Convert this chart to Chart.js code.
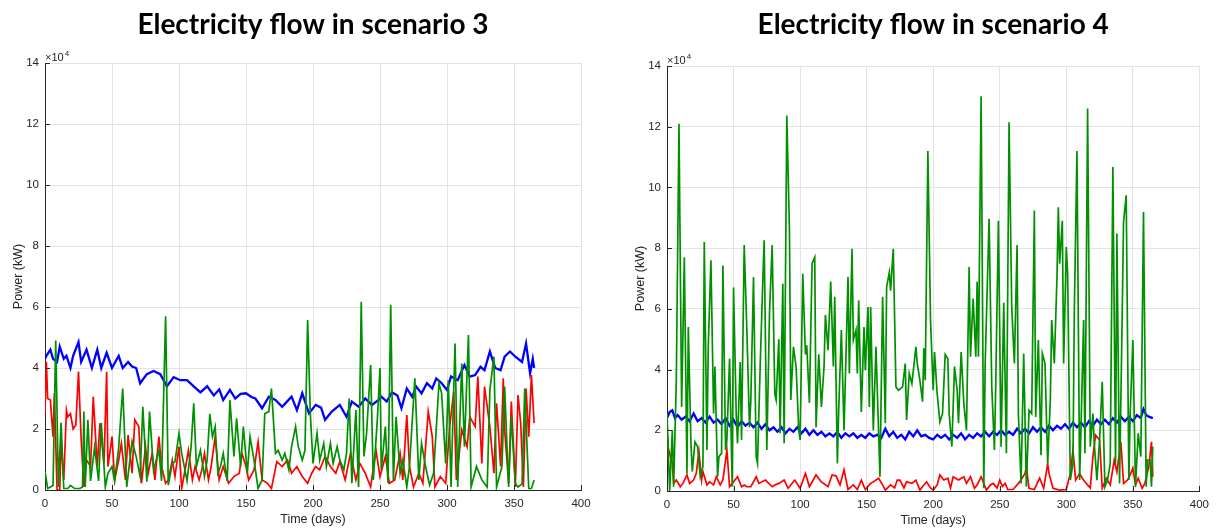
<!DOCTYPE html>
<html>
<head>
<meta charset="utf-8">
<script src="https://cdn.jsdelivr.net/npm/chart.js@4"></script>
<style>
  html, body { margin: 0; padding: 0; background: #fff; }
  body { width: 1216px; height: 528px; position: relative; overflow: hidden; }
  .box { position: absolute; top: 0; height: 528px; }
</style>
</head>
<body>
<div class="box" style="left:0;width:600px"><canvas id="chart3"></canvas></div>
<div class="box" style="left:620px;width:596px"><canvas id="chart4"></canvas></div>
<script>
// values in units of 10^4 kW, as [day, value]
const xTicks = [0, 50, 100, 150, 200, 250, 300, 350, 400];
const yTicks = [0, 2, 4, 6, 8, 10, 12, 14];

// scenario 3
const s3Blue = [[0,4.3],[1,4.4],[4,4.6],[6,4.3],[9,4.2],[11,4.7],[14,4.3],[16,4.4],[19,4.0],[21,4.4],[25,4.85],[27,4.2],[31,4.6],[35,4.0],[39,4.6],[42,4.0],[46,4.5],[50,4.0],[55,4.4],[58,4.0],[62,4.2],[65,4.05],[68,4.0],[71,3.5],[76,3.8],[81,3.9],[86,3.8],[91,3.4],[96,3.7],[101,3.6],[106,3.6],[111,3.4],[116,3.2],[121,3.4],[126,3.1],[130,3.3],[133,2.95],[138,3.28],[142,3.0],[146,3.15],[150,3.17],[154,3.05],[157,3.0],[162,2.68],[167,3.06],[172,2.95],[177,2.73],[184,3.06],[188,2.62],[192,3.17],[197,2.51],[202,2.79],[206,2.7],[209,2.3],[214,2.57],[220,2.79],[225,2.4],[229,2.9],[234,2.73],[239,3.0],[244,2.79],[249,2.95],[251,3.06],[255,2.9],[259,3.2],[263,3.1],[266,2.68],[270,3.33],[274,3.06],[277,3.39],[281,3.17],[285,3.5],[289,3.33],[292,3.66],[296,3.5],[300,3.28],[303,3.72],[308,3.6],[313,4.1],[317,3.72],[321,3.77],[325,4.04],[328,3.93],[332,4.54],[336,4.0],[340,3.93],[343,4.37],[347,4.54],[351,4.37],[356,4.2],[359,4.8],[362,3.83],[364,4.3],[365,4.0]];
const s3Green = [[0,0.6],[2,0.05],[4,0.1],[6,0.15],[8,4.9],[10,0.1],[12,2.2],[14,0.05],[17,0.05],[19,0.15],[22,0.05],[26,0.05],[28,0.1],[29,2.57],[30,0.1],[32,2.3],[34,0.3],[37,1.4],[40,0.3],[42,2.2],[45,0.1],[47,0.55],[50,0.77],[52,0.3],[55,1.4],[58,3.33],[61,0.1],[65,1.6],[68,1.1],[71,0.44],[73,2.73],[76,0.27],[78,2.57],[81,0.66],[85,1.3],[87,0.3],[90,5.7],[92,0.16],[95,0.87],[97,0.93],[100,1.86],[102,1.2],[106,0.3],[109,1.4],[111,2.84],[113,0.77],[116,1.3],[119,0.44],[121,0.98],[123,2.5],[125,1.75],[127,2.08],[129,0.55],[131,0.77],[133,1.2],[136,0.3],[138,2.95],[141,1.1],[143,2.35],[146,0.77],[148,2.08],[151,0.55],[153,1.75],[156,0.98],[159,0.05],[162,0.33],[164,2.5],[167,2.57],[169,3.33],[172,1.2],[174,1.3],[177,0.98],[179,1.2],[182,0.66],[184,1.42],[187,2.08],[189,1.42],[192,0.98],[194,1.3],[196,5.57],[198,2.5],[200,0.87],[203,1.86],[205,0.98],[208,1.53],[210,0.77],[213,1.53],[215,0.87],[218,1.42],[220,0.98],[223,0.66],[225,1.2],[227,3.0],[229,0.22],[232,2.62],[234,0.1],[236,6.17],[238,1.1],[240,1.86],[243,4.1],[245,0.33],[248,2.3],[250,4.0],[251,0.66],[254,2.08],[256,0.22],[258,6.07],[260,0.33],[262,2.4],[265,0.55],[267,0.98],[270,0.1],[272,0.77],[276,3.66],[279,0.33],[281,1.53],[284,0.77],[287,0.16],[290,0.55],[294,3.5],[296,3.17],[299,0.87],[301,3.6],[303,0.1],[306,4.8],[308,0.1],[311,4.15],[313,1.42],[316,5.08],[318,0.1],[322,0.77],[326,0.33],[330,0.1],[332,3.28],[335,4.37],[337,0.1],[341,0.77],[343,3.39],[346,0.1],[348,2.4],[351,0.22],[353,0.1],[356,0.2],[358,3.33],[361,0.05],[363,0.05],[365,0.33]];
const s3Red = [[0,2.5],[1,4.2],[2,3.0],[4,2.95],[6,1.75],[7,3.17],[9,0],[11,0],[12,1.58],[14,0.33],[16,2.62],[17,2.4],[19,2.5],[21,2.0],[23,2.13],[25,3.88],[27,1.64],[29,0.1],[31,0.98],[34,0.77],[36,3.06],[39,0.77],[41,2.19],[44,0.87],[46,3.88],[47,0.77],[50,1.75],[52,0.33],[55,0.98],[57,1.53],[60,0.33],[62,1.8],[65,0.55],[67,2.3],[70,2.08],[72,0.22],[75,1.42],[77,0.55],[80,1.2],[82,0.33],[85,1.75],[87,0.77],[90,0.22],[92,0.33],[95,0.98],[97,0.44],[100,1.42],[102,0.05],[105,0.77],[107,1.3],[110,0.33],[112,0.77],[115,0.33],[117,0.66],[119,1.2],[122,0.33],[124,0.77],[127,1.75],[130,0.33],[133,0.77],[137,0.22],[141,0.44],[145,0.55],[147,1.2],[150,0.77],[152,0.33],[156,0.66],[159,1.58],[162,0.33],[166,0.22],[169,0.05],[173,0.93],[177,0.77],[181,0.98],[184,0.55],[188,0.77],[192,0.44],[196,0.22],[199,0.55],[202,0.77],[205,0.66],[209,1.1],[213,0.77],[217,0.55],[220,0.93],[224,0.33],[228,1.2],[232,0.33],[235,0.87],[239,0.55],[243,0.1],[247,1.3],[250,0.44],[254,1.1],[257,0.22],[261,0.33],[265,1.2],[267,0.33],[270,2.46],[272,0.77],[275,0.1],[279,0.55],[282,0.22],[286,2.57],[289,1.75],[291,0.1],[295,0.44],[299,0.22],[302,2.08],[305,3.22],[307,0.33],[311,1.97],[315,1.42],[317,2.4],[321,2.08],[323,3.72],[326,0.87],[328,3.39],[332,2.08],[335,0.55],[337,2.84],[340,0.77],[342,3.66],[343,1.97],[346,0.22],[348,2.9],[351,0.1],[353,3.11],[355,2.19],[357,0.1],[359,3.33],[361,1.75],[363,3.77],[365,2.19]];

// scenario 4
const s4Blue = [[0,2.4],[2,2.6],[4,2.66],[6,2.4],[8,2.5],[11,2.35],[14,2.45],[17,2.3],[20,2.55],[23,2.3],[26,2.4],[29,2.25],[32,2.45],[35,2.25],[38,2.35],[41,2.2],[44,2.4],[47,2.15],[50,2.35],[53,2.1],[56,2.3],[59,2.15],[62,2.25],[65,2.1],[68,2.25],[71,2.05],[74,2.2],[77,2.0],[80,2.1],[83,1.95],[86,2.1],[89,1.9],[92,2.05],[95,1.95],[98,2.1],[101,1.9],[104,2.05],[107,1.85],[110,2.0],[113,1.85],[116,1.95],[119,1.8],[122,1.9],[125,1.8],[128,1.95],[131,1.75],[134,1.9],[137,1.8],[140,1.9],[143,1.75],[146,1.85],[149,1.75],[152,1.9],[155,1.8],[158,1.85],[161,1.75],[164,2.05],[167,1.8],[170,1.95],[173,1.75],[176,1.85],[179,1.7],[182,1.95],[185,1.8],[188,2.0],[191,1.8],[194,1.85],[197,1.75],[200,1.7],[203,1.85],[206,1.75],[209,1.85],[212,1.7],[215,1.85],[218,1.75],[221,1.9],[224,1.7],[227,1.85],[230,1.75],[233,1.9],[236,1.8],[239,1.95],[242,1.8],[245,1.95],[248,1.85],[251,2.0],[254,1.85],[257,1.95],[260,1.85],[263,2.05],[266,1.9],[269,2.05],[272,1.9],[275,2.1],[278,1.95],[281,2.1],[284,1.95],[287,2.15],[290,2.0],[293,2.15],[296,2.05],[299,2.2],[302,2.05],[305,2.25],[308,2.1],[311,2.25],[314,2.1],[317,2.3],[320,2.15],[323,2.35],[326,2.2],[329,2.35],[332,2.2],[335,2.4],[338,2.25],[341,2.45],[344,2.3],[347,2.45],[350,2.3],[353,2.5],[356,2.4],[358,2.7],[360,2.5],[362,2.45],[365,2.4]];
const s4Green = [[0,2.55],[2,0],[4,2.0],[5,0.14],[7,3.65],[9,12.1],[11,2.77],[13,7.7],[15,0.58],[16,5.4],[18,1.57],[19,0.64],[21,1.62],[23,1.46],[25,0.47],[27,0.8],[28,8.2],[30,1.35],[31,4.75],[33,7.6],[35,2.55],[36,4.1],[38,0.47],[39,1.13],[41,1.24],[42,7.43],[44,1.35],[45,1.68],[47,4.36],[49,0.14],[50,6.7],[52,2.55],[53,1.57],[55,4.25],[56,1.68],[58,8.1],[60,5.3],[62,2.1],[63,3.0],[65,7.05],[67,1.13],[68,0.91],[70,4.1],[72,6.94],[73,8.26],[75,1.35],[77,5.84],[79,8.1],[81,3.2],[82,3.0],[84,5.0],[85,1.9],[87,6.83],[88,1.57],[90,12.37],[92,8.6],[93,3.0],[95,4.75],[97,4.1],[99,2.0],[100,1.68],[102,7.16],[104,4.5],[105,4.8],[107,2.9],[109,7.5],[111,7.7],[112,2.1],[114,4.5],[116,2.77],[118,4.1],[119,5.8],[121,4.64],[123,6.9],[125,4.1],[126,6.4],[128,0.91],[129,2.66],[131,5.3],[133,2.0],[136,7.05],[137,3.87],[139,7.98],[140,4.97],[142,5.3],[143,3.87],[144,6.28],[146,2.6],[148,5.4],[149,3.98],[151,6.06],[152,2.77],[153,6.06],[155,2.0],[157,4.75],[160,0.47],[162,6.4],[164,2.23],[165,6.72],[167,7.2],[168,6.6],[170,7.98],[172,3.43],[174,3.32],[177,3.43],[179,4.2],[180,2.34],[182,3.87],[184,3.54],[187,4.75],[188,4.2],[190,3.65],[192,2.94],[193,4.7],[194,3.65],[196,11.2],[198,5.6],[200,3.32],[201,4.58],[203,3.2],[205,2.28],[207,2.55],[209,4.5],[211,4.36],[212,2.55],[214,1.46],[216,4.1],[218,3.32],[219,2.23],[221,4.58],[223,2.88],[225,2.0],[227,7.38],[228,4.42],[230,6.34],[232,4.42],[233,6.89],[234,4.42],[236,13.0],[238,0.09],[239,4.1],[242,8.97],[244,3.43],[246,1.35],[247,3.54],[249,8.9],[251,1.46],[253,6.2],[255,1.24],[257,12.15],[259,6.06],[261,4.2],[263,8.1],[264,2.55],[266,0.25],[268,4.53],[270,0.14],[272,2.66],[274,2.55],[276,9.24],[277,2.44],[279,4.97],[281,1.18],[282,4.53],[284,4.2],[286,0.91],[288,3.0],[289,5.63],[291,4.2],[293,7.05],[294,9.35],[295,7.49],[297,8.9],[298,4.2],[300,8.04],[301,7.16],[303,0.36],[305,0.91],[306,5.84],[308,11.2],[310,0.36],[311,2.0],[313,5.63],[314,1.24],[316,12.6],[318,1.46],[320,2.55],[321,1.57],[323,0.36],[325,1.68],[327,3.6],[329,0.14],[331,0.36],[333,0.91],[335,10.67],[337,0.91],[338,8.48],[340,0.25],[342,5.84],[343,8.86],[345,9.74],[347,0.36],[348,2.55],[350,4.97],[352,0.14],[354,1.9],[356,1.13],[358,9.19],[360,0.14],[361,1.02],[363,1.02],[364,0.14],[365,1.46]];
const s4Red = [[0,2.0],[1,1.4],[4,0.9],[5,0.25],[7,0.36],[10,0.14],[12,0.25],[15,0.53],[17,0.25],[20,0.36],[22,0.58],[24,1.3],[26,0.36],[27,0.64],[30,0.2],[32,0.3],[35,0.2],[37,0.47],[40,0.2],[42,0.36],[45,1.35],[47,0.14],[49,0.25],[53,0.47],[56,0.14],[58,0.2],[60,0.14],[63,0.14],[67,0.47],[69,0.25],[74,0.36],[79,0.14],[81,0.2],[84,0.25],[88,0.36],[91,0.09],[96,0.36],[100,0.09],[104,0.58],[107,0.14],[112,0.53],[116,0.3],[121,0.14],[124,0.53],[127,0.5],[130,0.2],[133,0.7],[136,0.05],[140,0.2],[143,0.05],[146,0.36],[149,0.05],[153,0.25],[155,0.3],[159,0.42],[162,0.2],[164,0.03],[168,0.2],[171,0.1],[173,0.36],[175,0.36],[178,0.1],[180,0.3],[184,0.25],[187,0.36],[190,0.03],[193,0.2],[195,0.3],[198,0.1],[200,0.03],[203,0.2],[205,0.53],[208,0.36],[211,0.42],[213,0.1],[215,0.47],[219,0.36],[223,0.47],[225,0.25],[228,0.47],[231,0.09],[233,0.2],[236,0.47],[240,0.03],[243,0.2],[245,0.25],[248,0.1],[250,0.36],[252,0.15],[254,0.25],[256,0.05],[260,0.05],[265,0.3],[269,0.58],[270,0.8],[272,0.09],[276,0.05],[280,0.42],[283,0.09],[286,0.9],[287,0.58],[290,0.09],[295,0.03],[300,0.05],[303,0.58],[305,1.35],[307,0.36],[310,0.58],[312,0.42],[315,0.25],[318,0.1],[320,1.13],[322,1.84],[325,1.68],[327,0.09],[330,0.42],[333,0.2],[336,1.02],[338,0.63],[341,1.62],[343,0.25],[346,0.36],[348,0.53],[350,0.75],[352,0.2],[354,0.42],[357,0.09],[359,0.25],[362,0.8],[364,1.62],[365,0.47]];

const AXIS = '#262626';
const GRID = '#e3e3e3';
const TICK_FONT = { family: '"Liberation Sans", Arial, sans-serif', size: 11.5 };

// matlab-ish inward ticks and the x10^4 exponent
const axisExtras = {
  id: 'axisExtras',
  afterDraw(chart) {
    const { ctx, chartArea: a, scales: { x, y } } = chart;
    ctx.save();
    ctx.strokeStyle = AXIS;
    ctx.lineWidth = 1;
    ctx.beginPath();
    xTicks.forEach(v => {
      const px = Math.round(x.getPixelForValue(v)) + 0.5;
      ctx.moveTo(px, a.bottom);
      ctx.lineTo(px, a.bottom - 5);
    });
    yTicks.forEach(v => {
      const py = Math.round(y.getPixelForValue(v)) + 0.5;
      ctx.moveTo(a.left, py);
      ctx.lineTo(a.left + 5, py);
    });
    ctx.stroke();
    ctx.fillStyle = AXIS;
    ctx.textBaseline = 'alphabetic';
    ctx.font = '11px "Liberation Sans", Arial, sans-serif';
    ctx.fillText('×10', a.left, a.top - 2);
    const w = ctx.measureText('×10').width;
    ctx.font = '8px "Liberation Sans", Arial, sans-serif';
    ctx.fillText('4', a.left + w + 1, a.top - 7);
    ctx.restore();
  }
};

function pts(arr) {
  return arr.map(p => ({ x: p[0], y: p[1] }));
}

function makeChart(id, title, green, red, blue, lay) {
  return new Chart(document.getElementById(id), {
    type: 'line',
    data: {
      datasets: [
        { data: pts(green), borderColor: '#009000', borderWidth: 1.7 },
        { data: pts(red), borderColor: '#ff0000', borderWidth: 1.7 },
        { data: pts(blue), borderColor: '#0000ff', borderWidth: 2.3 },
      ],
    },
    options: {
      responsive: true,
      maintainAspectRatio: false,
      animation: false,
      events: [],
      layout: { padding: { left: 0, right: lay.right, top: 0, bottom: 0 } },
      elements: { point: { radius: 0 }, line: { tension: 0, fill: false } },
      plugins: {
        legend: { display: false },
        tooltip: { enabled: false },
        title: {
          display: true,
          text: title,
          fullSize: false,
          color: '#000',
          font: { family: 'Lato, "Open Sans", sans-serif', size: 28, weight: 'bold' },
          padding: { top: 8, bottom: lay.titleGap },
        },
      },
      scales: {
        x: {
          type: 'linear',
          min: 0,
          max: 400,
          afterBuildTicks: s => { s.ticks = xTicks.map(v => ({ value: v })); },
          afterFit: s => { s.height = lay.xh; },
          ticks: { color: AXIS, font: TICK_FONT, padding: 7, maxRotation: 0 },
          grid: { color: GRID, drawTicks: false, tickLength: 0 },
          border: { color: AXIS },
          title: { display: true, text: 'Time (days)', color: AXIS, font: { family: TICK_FONT.family, size: 12.5 }, padding: { top: 0, bottom: lay.xtb } },
        },
        y: {
          min: 0,
          max: 14,
          afterBuildTicks: s => { s.ticks = yTicks.map(v => ({ value: v })); },
          afterFit: s => { s.width = lay.yw; },
          ticks: { color: AXIS, font: TICK_FONT, padding: 6 },
          grid: { color: GRID, drawTicks: false, tickLength: 0 },
          border: { color: AXIS },
          title: { display: true, text: 'Power (kW)', color: AXIS, font: { family: TICK_FONT.family, size: 12.5 }, padding: { top: lay.ytp, bottom: 0 } },
        },
      },
    },
    plugins: [axisExtras],
  });
}

makeChart('chart3', 'Electricity flow in scenario 3', s3Green, s3Red, s3Blue,
  { right: 19, titleGap: 21.4, xh: 38, yw: 45, xtb: 1, ytp: 11 });
makeChart('chart4', 'Electricity flow in scenario 4', s4Green, s4Red, s4Blue,
  { right: 14, titleGap: 24.4, xh: 37, yw: 47, xtb: 0, ytp: 13 });
</script>
</body>
</html>
